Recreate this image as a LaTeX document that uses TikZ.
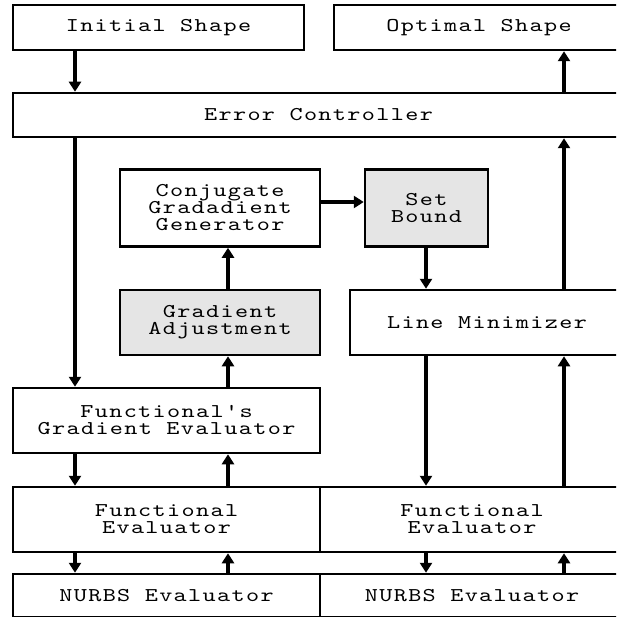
\documentclass[tikz,border=0pt]{standalone}
\usepackage{fontspec}
\usetikzlibrary{arrows.meta}
\definecolor{boxgray}{RGB}{229,229,229}
\newfontfamily\diagmono{lmmono10-regular.otf}[FakeStretch=1.28,LetterSpace=7]
\newcommand{\diagfont}{\diagmono\fontsize{19.5}{17}\selectfont}
\tikzset{
  blk/.style={draw=black, line width=2.5pt, rectangle, inner sep=0pt, align=center,
    font=\diagfont},
  grayblk/.style={blk, fill=boxgray},
  arr/.style={line width=4pt, -{Triangle[width=12pt,length=10pt]}},
}
\begin{document}
\begin{tikzpicture}[x=1pt,y=-1pt]
\useasboundingbox (0,0) rectangle (616,617);
\clip (0,0) rectangle (616,617);
% nodes
\node[blk, minimum width=291, minimum height=45] (init) at (158.5,27.5) {Initial Shape};
\node[blk, minimum width=290, minimum height=45] (opt) at (479,27.5) {Optimal Shape};
\node[blk, minimum width=611, minimum height=44] (err) at (318.5,115) {Error Controller};
\node[blk, minimum width=200, minimum height=77] (cgg) at (220,208) {Conjugate\\Gradadient\\Generator};
\node[grayblk, minimum width=123, minimum height=77] (setb) at (426.5,208) {Set\\Bound};
\node[grayblk, minimum width=200, minimum height=65] (gadj) at (220,322.5) {Gradient\\Adjustment};
\node[blk, minimum width=274, minimum height=65] (linem) at (487,322.5) {Line Minimizer};
\node[blk, minimum width=307, minimum height=65] (fge) at (166.5,420.5) {Functional's\\Gradient Evaluator};
\node[blk, minimum width=307, minimum height=65] (feL) at (166.5,519.5) {Functional\\Evaluator};
\node[blk, minimum width=304, minimum height=65] (feR) at (472,519.5) {Functional\\Evaluator};
\node[blk, minimum width=307, minimum height=43] (nurL) at (166.5,595.5) {NURBS Evaluator};
\node[blk, minimum width=304, minimum height=43] (nurR) at (472,595.5) {NURBS Evaluator};
% connector columns
\coordinate (xa) at (75,0);
\coordinate (xb) at (228,0);
\coordinate (xc) at (426,0);
\coordinate (xd) at (564,0);
\coordinate (ycs) at (0,202);
% connectors
\draw[arr] (init.south -| xa) -- (err.north -| xa);
\draw[arr] (err.north -| xd) -- (opt.south -| xd);
\draw[arr] (err.south -| xa) -- (fge.north -| xa);
\draw[arr] (linem.north -| xd) -- (err.south -| xd);
\draw[arr] (cgg.east |- ycs) -- (setb.west |- ycs);
\draw[arr] (setb.south -| xc) -- (linem.north -| xc);
\draw[arr] (gadj.north -| xb) -- (cgg.south -| xb);
\draw[arr] (fge.north -| xb) -- (gadj.south -| xb);
\draw[arr] (fge.south -| xa) -- (feL.north -| xa);
\draw[arr] (feL.north -| xb) -- (fge.south -| xb);
\draw[arr] (linem.south -| xc) -- (feR.north -| xc);
\draw[arr] (feR.north -| xd) -- (linem.south -| xd);
\draw[arr] (feL.south -| xa) -- (nurL.north -| xa);
\draw[arr] (nurL.north -| xb) -- (feL.south -| xb);
\draw[arr] (feR.south -| xc) -- (nurR.north -| xc);
\draw[arr] (nurR.north -| xd) -- (feR.south -| xd);
\end{tikzpicture}
\end{document}
